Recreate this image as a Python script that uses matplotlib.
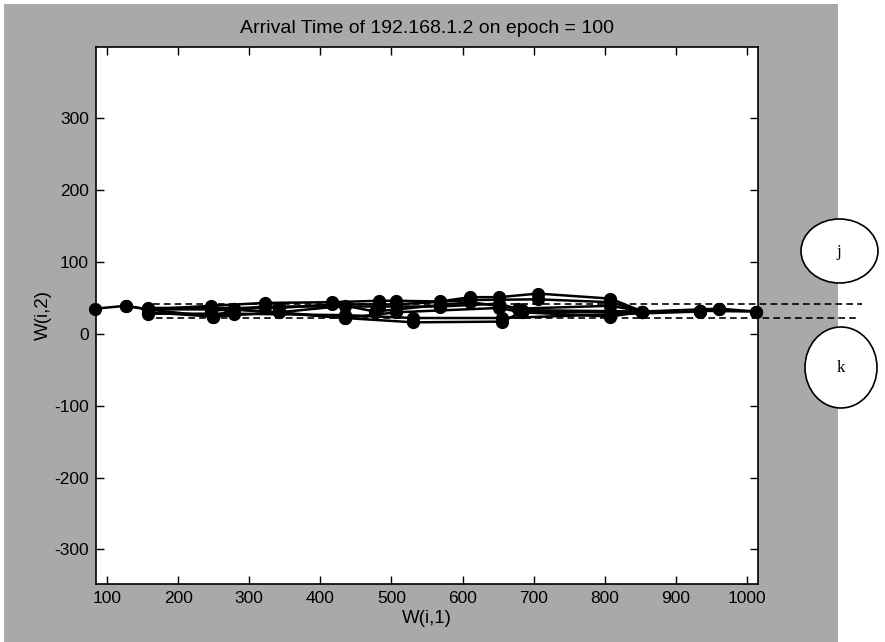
import matplotlib.pyplot as plt
from matplotlib.patches import Rectangle, Ellipse

# weight chains (W(i,1), W(i,2))
top_x = [83, 127, 157, 246, 322, 416, 483, 507, 568, 611, 651, 706, 808, 853, 934, 961, 1013]
top_y = [35, 39, 34, 39, 43, 44, 46, 46, 45, 51, 51, 56, 49, 31, 32, 35, 31]
mid_x = [127, 157, 278, 342, 435, 477, 568, 611, 678, 808, 853, 961]
mid_y = [39, 34, 34, 30, 39, 31, 40, 44, 35, 39, 31, 35]
mid2_x = [157, 249, 278, 435, 507, 651, 683, 808, 934, 1013]
mid2_y = [34, 24, 34, 22, 30, 36, 30, 30, 32, 31]
bot_x = [157, 249, 342, 435, 531, 655, 683, 808, 853, 934]
bot_y = [30, 24, 30, 22, 16, 17, 30, 24, 31, 32]
up2_x = [157, 246, 342, 416, 507, 611, 706, 808, 853]
up2_y = [36, 36, 36, 41, 41, 47, 48, 44, 31]
low2_x = [157, 278, 435, 531, 655, 808, 934]
low2_y = [28, 28, 26, 22, 22, 27, 31]
cen_x = [246, 322, 483, 568, 651, 683, 853]
cen_y = [32, 38, 38, 38, 42, 33, 31]

# dashed bounds j / k
j_y = 41.7
k_y = 21.8
j_x = [165, 1162]
k_x = [153, 1155]

x_ticks = [100, 200, 300, 400, 500, 600, 700, 800, 900, 1000]
y_ticks = [-300, -200, -100, 0, 100, 200, 300]

plt.rcParams['font.family'] = ['Liberation Sans', 'DejaVu Sans']
plt.rcParams['axes.unicode_minus'] = False

fig = plt.figure(figsize=(8.85, 6.42), dpi=100, facecolor='white')
fig.patches.append(Rectangle((4 / 885, 0), 834 / 885, 638 / 642, transform=fig.transFigure,
                             facecolor='#a9a9a9', edgecolor='none', zorder=-10))

ax = fig.add_axes([96 / 885, 1 - 584 / 642, 662 / 885, 537 / 642])
ax.set_facecolor('white')

chains = [(top_x, top_y), (mid_x, mid_y), (mid2_x, mid2_y), (bot_x, bot_y),
          (up2_x, up2_y), (low2_x, low2_y), (cen_x, cen_y)]
for xs, ys in chains:
    ax.plot(xs, ys, color='black', lw=1.8, marker='o', ms=8.5, mfc='black', mec='black',
            clip_on=False, zorder=3)

ax.plot(j_x, [j_y, j_y], color='black', lw=1.2, ls=(0, (4, 2.5)), clip_on=False, zorder=4)
ax.plot(k_x, [k_y, k_y], color='black', lw=1.2, ls=(0, (4, 2.5)), clip_on=False, zorder=4)

ax.set_xlim(84.5, 1015.5)
ax.set_ylim(-348, 399)
ax.set_xticks(x_ticks)
ax.set_yticks(y_ticks)
ax.tick_params(direction='in', length=6, width=1, top=True, right=True,
               labelsize=12.5, pad=5, colors='black')
for s in ax.spines.values():
    s.set_linewidth(1.2)

ax.set_title('Arrival Time of 192.168.1.2 on epoch = 100', fontsize=14, pad=10)
ax.set_xlabel('W(i,1)', fontsize=13.5, labelpad=3)
ax.set_ylabel('W(i,2)', fontsize=13.5, labelpad=2)

# circles j and k on the right
fig.patches.append(Ellipse((839.5 / 885, 1 - 251 / 642), 77 / 885, 64 / 642,
                           transform=fig.transFigure, facecolor='white', edgecolor='black',
                           lw=1.2, zorder=5))
fig.patches.append(Ellipse((841 / 885, 1 - 367.5 / 642), 72 / 885, 81 / 642,
                           transform=fig.transFigure, facecolor='white', edgecolor='black',
                           lw=1.2, zorder=5))
fig.text(839 / 885, 1 - 252 / 642, 'j', family='Liberation Serif', fontsize=12,
         ha='center', va='center', zorder=6)
fig.text(841 / 885, 1 - 368 / 642, 'k', family='Liberation Serif', fontsize=12,
         ha='center', va='center', zorder=6)

plt.savefig('out.png', dpi=100, facecolor='white')
